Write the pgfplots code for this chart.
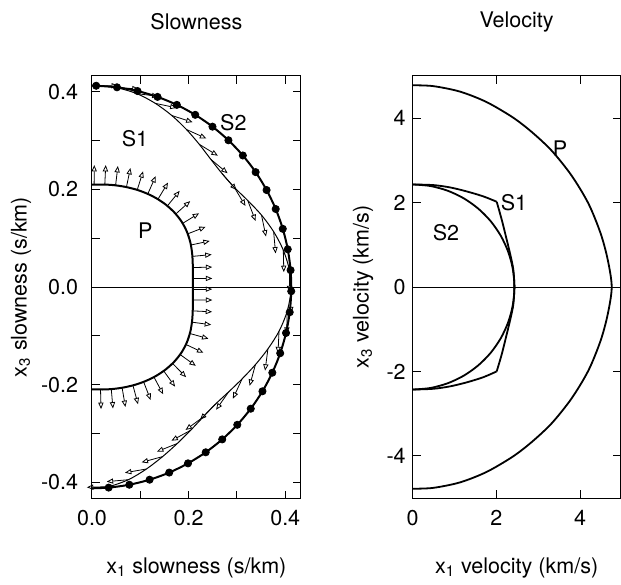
\documentclass[border=0pt]{standalone}
\usepackage{fontspec}
\setmainfont{TeX Gyre Heros}
\usepackage{pgfplots}
\pgfplotsset{compat=1.18}
\usetikzlibrary{arrows.meta}

\pgfplotsset{
  panel/.style={
    scale only axis, height=211.3bp,
    axis line style={line width=0.5bp},
    every tick/.style={line width=0.5bp, black},
    tick align=inside, tick pos=both,
    major tick length=3.9bp, minor tick length=3.9bp,
    xticklabel pos=lower, yticklabel pos=left,
    xticklabel style={yshift=-2.3bp},
    every axis title/.style={at={(axis description cs:0.5,1.127)}, anchor=center},
    xlabel style={at={(axis description cs:0.5,-0.165)}, anchor=center},
  },
  polar/.style={mark=none, line width=0.4bp,
    -{Triangle[open,length=3.2bp,width=2.6bp]},
    quiver={u=\thisrow{u},v=\thisrow{v}}},
}

\begin{document}
\begin{tikzpicture}[font=\fontsize{10.8}{13}\selectfont]
\useasboundingbox (-46bp,-43.35bp) rectangle (264.5bp,249.15bp);

% ---------------- slowness ----------------
\begin{axis}[panel, at={(0,0)}, anchor=south west, width=104.35bp,
  xmin=0, xmax=0.432, ymin=-0.433, ymax=0.433, clip=false,
  xtick={0,0.2,0.4}, xticklabels={0.0,0.2,0.4},
  minor xtick={0.1,0.3},
  ytick={-0.4,-0.2,0,0.2,0.4}, yticklabels={-0.4,-0.2,0.0,0.2,0.4},
  minor ytick={-0.3,-0.1,0.1,0.3},
  yticklabel style={xshift=-3.4bp},
  title={Slowness},
  xlabel={x\textsubscript{1} slowness (s/km)},
  ylabel={x\textsubscript{3} slowness (s/km)},
  ylabel style={at={(axis description cs:-0.34,0.5)}, anchor=center},
]
\addplot[line width=0.5bp] coordinates {(0,0) (0.432,0)};

% P slowness
\addplot[line width=1bp, smooth] coordinates {
 (0,0.2096) (0.02208,0.21004) (0.04439,0.20883) (0.06681,0.20562)
 (0.08920,0.20034) (0.1112,0.19261) (0.13243,0.18227) (0.15229,0.16914)
 (0.17011,0.15316) (0.18510,0.13449) (0.19641,0.1134) (0.20372,0.09070)
 (0.20743,0.06740) (0.20864,0.04435) (0.20885,0.02195) (0.2088,0)
 (0.20885,-0.02195) (0.20864,-0.04435) (0.20743,-0.06740) (0.20372,-0.09070)
 (0.19641,-0.1134) (0.18510,-0.13449) (0.17011,-0.15316) (0.15229,-0.16914)
 (0.13243,-0.18227) (0.1112,-0.19261) (0.08920,-0.20034) (0.06681,-0.20562)
 (0.04439,-0.20883) (0.02208,-0.21004) (0,-0.2096)};

% P polarisation
\addplot[polar] table {
x y u v
0.0044 0.2099 0.0003 0.0400
0.02653 0.21003 0.0019 0.03995
0.04887 0.20835 0.0047 0.0397
0.0713 0.20474 0.0082 0.0392
0.09363 0.19897 0.0121 0.0381
0.11552 0.19075 0.0163 0.0365
0.13652 0.17986 0.0208 0.0342
0.15601 0.16613 0.0254 0.0309
0.17328 0.14957 0.0300 0.0265
0.18755 0.13035 0.0341 0.0208
0.19798 0.10888 0.0373 0.0144
0.20465 0.08603 0.0391 0.0083
0.20783 0.06275 0.0398 0.0037
0.20884 0.03984 0.0400 0.0010
0.20896 0.01755 0.0400 0.0000
0.20875 -0.00437 0.0400 0.0000
0.20904 -0.02641 0.0400 -0.0003
0.20864 -0.04894 0.0400 -0.0019
0.20691 -0.07206 0.0397 -0.0053
0.20250 -0.09529 0.0386 -0.0106
0.19434 -0.11770 0.0362 -0.0170
0.18225 -0.13833 0.0326 -0.0232
0.16664 -0.15649 0.0282 -0.0284
0.14839 -0.17191 0.0236 -0.0323
0.12824 -0.18451 0.0190 -0.0352
0.10685 -0.19436 0.0146 -0.0372
0.08475 -0.20161 0.0105 -0.0386
0.06234 -0.20649 0.0068 -0.0394
0.03991 -0.20923 0.0035 -0.0398
0.01765 -0.21016 0.0011 -0.0400
};

% S1 slowness
\addplot[line width=0.5bp, smooth] coordinates {
 (0,0.413) (0.00864,0.41271) (0.05157,0.40825) (0.09292,0.39615)
 (0.13105,0.37634) (0.16533,0.35135) (0.19550,0.32281) (0.22201,0.29249)
 (0.24582,0.26177) (0.26926,0.23242) (0.29422,0.20449) (0.32238,0.17728)
 (0.35077,0.14745) (0.37594,0.11350) (0.39596,0.07553) (0.40866,0.03432)
 (0.41161,-0.00862) (0.40359,-0.05098) (0.38709,-0.09079) (0.36415,-0.12681)
 (0.33823,-0.15916) (0.31075,-0.18820) (0.28301,-0.21481) (0.25558,-0.24000)
 (0.23000,-0.26646) (0.20409,-0.29364) (0.17637,-0.32082) (0.14610,-0.34754)
 (0.11261,-0.37297) (0.07533,-0.39488) (0.03436,-0.40916) (0,-0.413)};

% S1 polarisation
\addplot[polar] table {
x y u v
0.00864 0.41271 0.0450 -0.0003
0.05157 0.40825 0.04495 -0.00217
0.09292 0.39615 0.04469 -0.00531
0.13105 0.37634 0.04405 -0.00922
0.16533 0.35135 0.04290 -0.01359
0.19550 0.32281 0.04108 -0.01837
0.22201 0.29249 0.03845 -0.02338
0.24582 0.26177 0.03474 -0.02861
0.26926 0.23242 0.02976 -0.03375
0.29422 0.20449 0.02345 -0.03840
0.32238 0.17728 0.01620 -0.04198
0.35077 0.14745 0.00937 -0.04401
0.37594 0.11350 0.00411 -0.04481
0.39596 0.07553 0.00113 -0.04499
0.40866 0.03432 0.0 -0.045
0.41161 -0.00862 0.0 -0.045
0.40359 -0.05098 -0.0003 -0.045
0.38709 -0.09079 -0.00209 -0.04495
0.36415 -0.12681 -0.00594 -0.04461
0.33823 -0.15916 -0.01195 -0.04338
0.31075 -0.18820 -0.01909 -0.04075
0.28301 -0.21481 -0.02612 -0.03664
0.25558 -0.24000 -0.03192 -0.03172
0.23000 -0.26646 -0.03636 -0.02651
0.20409 -0.29364 -0.03962 -0.02133
0.17637 -0.32082 -0.04189 -0.01643
0.14610 -0.34754 -0.04343 -0.01178
0.11261 -0.37297 -0.04435 -0.0076
0.07533 -0.39488 -0.04483 -0.00395
0.03436 -0.40916 -0.04498 -0.00126
};

% S2 slowness
\addplot[line width=1bp, smooth] coordinates {
 (0,0.4125) (0.00864,0.41241) (0.05170,0.40925) (0.09419,0.40160)
 (0.13566,0.38956) (0.17563,0.37324) (0.21369,0.35284) (0.24940,0.32857)
 (0.28238,0.30070) (0.31226,0.26954) (0.33872,0.23542) (0.36136,0.19872)
 (0.38027,0.15985) (0.39489,0.11922) (0.40519,0.07729) (0.41105,0.03452)
 (0.41241,-0.00864) (0.40925,-0.05170) (0.40160,-0.09419) (0.38956,-0.13566)
 (0.37324,-0.17563) (0.35284,-0.21369) (0.32857,-0.24940) (0.30070,-0.28238)
 (0.26954,-0.31226) (0.23542,-0.33872) (0.19872,-0.36136) (0.15985,-0.38027)
 (0.11922,-0.39489) (0.07729,-0.40519) (0.03452,-0.41105) (0,-0.4125)};
\addplot[only marks, mark=*, mark size=1.8bp] coordinates {
 (0.00864,0.41241) (0.05170,0.40925) (0.09419,0.40160)
 (0.13566,0.38956) (0.17563,0.37324) (0.21369,0.35284) (0.24940,0.32857)
 (0.28238,0.30070) (0.31226,0.26954) (0.33872,0.23542) (0.36136,0.19872)
 (0.38027,0.15985) (0.39489,0.11922) (0.40519,0.07729) (0.41105,0.03452)
 (0.41241,-0.00864) (0.40925,-0.05170) (0.40160,-0.09419) (0.38956,-0.13566)
 (0.37324,-0.17563) (0.35284,-0.21369) (0.32857,-0.24940) (0.30070,-0.28238)
 (0.26954,-0.31226) (0.23542,-0.33872) (0.19872,-0.36136) (0.15985,-0.38027)
 (0.11922,-0.39489) (0.07729,-0.40519) (0.03452,-0.41105)};

\node at (axis cs:0.089,0.303) {S1};
\node at (axis cs:0.2926,0.337) {S2};
\node at (axis cs:0.1104,0.116) {P};
\end{axis}

% ---------------- velocity ----------------
\begin{axis}[panel, at={(160.35bp,0)}, anchor=south west, width=103.9bp,
  xmin=0, xmax=4.965, ymin=-5.007, ymax=5.007,
  xtick={0,2,4}, xticklabels={0,2,4},
  ytick={-4,-2,0,2,4}, yticklabels={-4,-2,0,2,4},
  title={Velocity},
  xlabel={x\textsubscript{1} velocity (km/s)},
  ylabel={x\textsubscript{3} velocity (km/s)},
  ylabel style={at={(axis description cs:-0.239,0.5)}, anchor=center},
]
\addplot[line width=0.5bp] coordinates {(0,0) (4.965,0)};

% P
\addplot[line width=0.9bp, smooth] coordinates {
 (0,4.78) (0.49,4.76) (1.13,4.63) (1.76,4.385) (2.39,4.02) (2.86,3.66)
 (3.33,3.22) (3.80,2.635) (4.20,1.975) (4.49,1.27) (4.66,0.645) (4.755,0)
 (4.66,-0.645) (4.49,-1.27) (4.20,-1.975) (3.80,-2.635) (3.33,-3.22)
 (2.86,-3.66) (2.39,-4.02) (1.76,-4.385) (1.13,-4.63) (0.49,-4.76) (0,-4.78)};

% S2
\addplot[line width=0.9bp, smooth] coordinates {
 (0,2.43) (0.422,2.393) (0.831,2.283) (1.215,2.104) (1.562,1.861)
 (1.861,1.562) (2.104,1.215) (2.283,0.831) (2.393,0.422) (2.43,0)
 (2.393,-0.422) (2.283,-0.831) (2.104,-1.215) (1.861,-1.562) (1.562,-1.861)
 (1.215,-2.104) (0.831,-2.283) (0.422,-2.393) (0,-2.43)};

% S1
\addplot[line width=0.9bp, smooth] coordinates {
 (0,2.43) (0.493,2.415) (0.891,2.36) (1.29,2.265) (1.688,2.147) (2.007,2.02)};
\addplot[line width=0.9bp, smooth] coordinates {
 (2.007,2.02) (2.127,1.595) (2.246,1.121) (2.342,0.725) (2.404,0.41) (2.43,0)
 (2.404,-0.41) (2.342,-0.725) (2.246,-1.121) (2.127,-1.595) (2.007,-2.0)};
\addplot[line width=0.9bp, smooth] coordinates {
 (2.007,-2.0) (1.688,-2.137) (1.29,-2.26) (0.891,-2.355) (0.493,-2.412) (0,-2.43)};

\node at (axis cs:3.52,3.28) {P};
\node at (axis cs:2.42,2.0) {S1};
\node at (axis cs:0.796,1.28) {S2};
\end{axis}
\end{tikzpicture}
\end{document}
